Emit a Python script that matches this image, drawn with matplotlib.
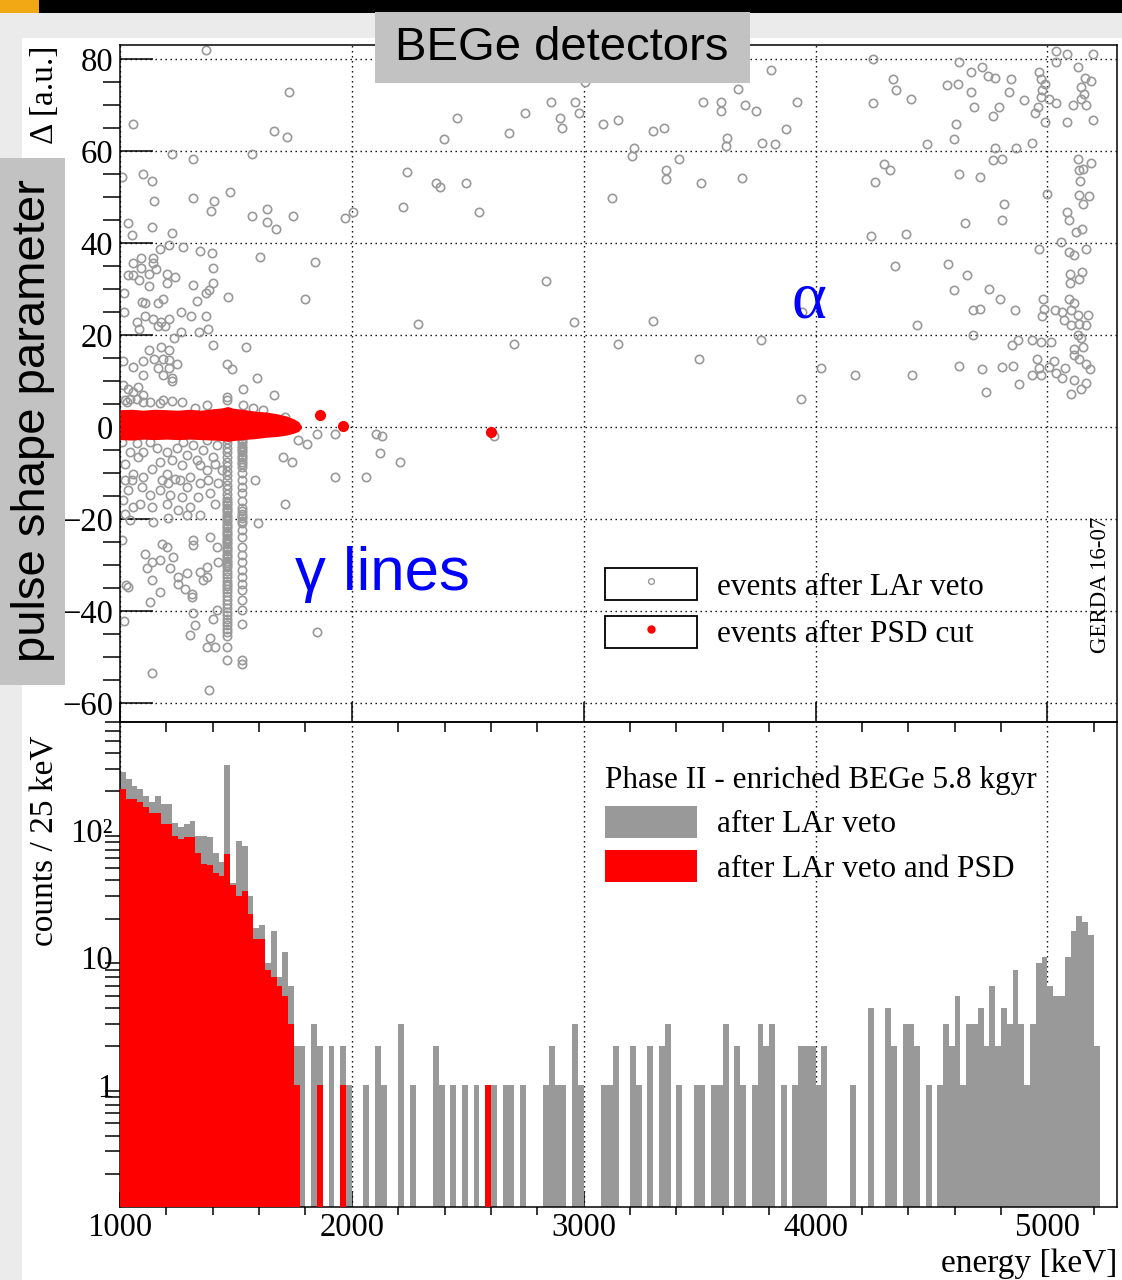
import numpy as np
import matplotlib
matplotlib.use("Agg")
import matplotlib.pyplot as plt
from matplotlib.patches import Rectangle, Patch
from matplotlib.lines import Line2D
from matplotlib.legend_handler import HandlerTuple
from matplotlib.ticker import MultipleLocator, LogLocator, NullFormatter

plt.rcParams['font.family'] = ['Liberation Serif', 'DejaVu Serif']
plt.rcParams['axes.linewidth'] = 1.1

GRAY = '#999999'
RED = '#ff0000'
BLUE = '#0000ff'

# ---- energy spectrum, counts / 25 keV, 1000 - 5300 keV -----------------
E_MIN, E_MAX, BIN_W = 1000, 5300, 25
cnt_lar = [
    284, 248, 222, 209, 183, 164, 183, 160, 160, 114,
    106, 111, 118, 90, 90, 87, 66, 56, 324, 38,
    82, 74, 30, 17, 18, 9, 16, 7, 11, 6,
    2, 2, 0, 3, 2, 0, 2, 0, 2, 1,
    0, 0, 1, 0, 2, 1, 0, 0, 3, 0,
    1, 0, 0, 0, 2, 1, 0, 1, 0, 1,
    0, 1, 0, 1, 1, 0, 1, 1, 0, 1,
    0, 0, 0, 1, 2, 1, 1, 0, 3, 1,
    0, 0, 0, 1, 1, 2, 0, 0, 2, 1,
    0, 2, 0, 2, 3, 0, 1, 0, 0, 1,
    1, 0, 1, 1, 3, 0, 2, 1, 0, 1,
    3, 2, 3, 0, 1, 0, 1, 2, 2, 2,
    1, 2, 0, 0, 0, 0, 1, 0, 0, 4,
    0, 0, 4, 2, 0, 3, 3, 2, 0, 1,
    0, 1, 3, 2, 5, 1, 3, 3, 4, 2,
    6, 2, 4, 3, 8, 3, 1, 3, 9, 10,
    6, 5, 5, 10, 16, 21, 19, 15, 2, 0,
    0, 0,
]
# after PSD: the continuum below 1775 keV plus three single events
cnt_psd_low = [
    209, 173, 173, 165, 150, 135, 135, 111, 111, 90,
    84, 87, 87, 66, 54, 53, 46, 43, 64, 37,
    30, 33, 22, 14, 14, 8, 7, 6, 5, 3,
    1,
]
psd_single_bins = [34, 38, 63]

# ---- pulse shape parameter vs energy -------------------------------------
# events after LAr veto (open circles)
lar_e = [
    # below 2 MeV, above the band
    1371, 1728, 1057, 1664, 1721, 1226, 1315, 1569, 1098, 1010,
    1138, 1145, 1315, 1404, 1394, 1474, 1033, 1052, 1138, 1226,
    1569, 1632, 1632, 1672, 1744, 1211, 1172, 1273, 1345, 1395,
    1602, 1842, 1057, 1091, 1144, 1144, 1091, 1036, 1055, 1124,
    1155, 1204, 1237, 1204, 1402, 1402, 1313, 1083, 1126, 1385,
    1371, 1467, 1799, 1019, 1093, 1109, 1162, 1187, 1330, 1019,
    1072, 1108, 1141, 1177, 1213, 1263, 1306, 1371, 1083, 1162,
    1194, 1263, 1234, 1339, 1378, 1402, 1543, 1126, 1177, 1213,
    1148, 1187, 1213, 1098, 1014, 1244, 1165, 1213, 1057, 1463,
    1481, 1101, 1187, 1226, 1226, 1592, 1529, 1664, 1463, 1463,
    1014, 1036, 1057, 1079, 1043, 1072, 1101, 1022, 1129, 1187,
    1226, 1266, 1374, 1532,
    1029, 1101, 1172, 1323, 1575, 1618, 1711, 1769, 1805, 1848, 1927,
    # below 2 MeV, under the band
    1043, 1079, 1022, 1057, 1050, 1101, 1137, 1172, 1201, 1244,
    1287, 1331, 1359, 1402, 1417, 1374, 1302, 1259, 1208, 1172,
    1129, 1086, 1036, 1014, 1137, 1201, 1251, 1302, 1338, 1388,
    1424, 1438, 1345, 1287, 1208, 1144, 1043, 1007, 1108, 1137,
    1180, 1201, 1230, 1316, 1316, 1388, 1417, 1424, 1374, 1345,
    1287, 1251, 1216, 1172, 1115, 1137, 1172, 1036, 1129, 1251,
    1280, 1309, 1309, 1359, 1374, 1417, 1402, 1388, 1410, 1302,
    1323, 1374, 1137, 1057, 1596, 1582, 1711, 1704, 1740, 1927,
    2063, 2121, 2207, 1848,
    1007, 1072, 1129, 1273, 1316, 1374, 1101, 1158, 1223, 1266,
    1345, 1410, 1201, 1237, 1180, 1287, 1345, 1381, 1093, 1216,
    1266, 1410, 1022, 1022, 1384, 1017, 1026, 1315,
    # 2 - 3.2 MeV
    2860, 2964, 2748, 2452, 2899, 2978, 2908, 2678, 2398, 3083,
    3148, 3004, 2238, 2365, 2379, 2493, 2222, 2550, 3123, 1970,
    2003, 2837, 2287, 2957, 2701, 3148, 2102, 2128, 2612, 3218,
    3210,
    # 3.2 - 4.6 MeV
    3809, 4247, 3665, 3514, 3593, 3593, 3697, 3744, 3921, 3299,
    3346, 3874, 3618, 3612, 3770, 3827, 3411, 3356, 3356, 3506,
    3682, 4336, 4345, 4247, 4412, 4566, 4479, 4295, 4319, 4256,
    4240, 4391, 4342, 4570, 3299, 3763, 3498, 4023, 4168, 4415,
    3937, 4438, 3943,
    # alpha region above 4.6 MeV
    5037, 5084, 5195, 5037, 4620, 4671, 4716, 4742, 4775, 4843,
    4613, 4671, 4836, 4900, 4685, 4790, 4764, 4606, 4599, 4965,
    4972, 4991, 4977, 4972, 5005, 4958, 4948, 4991, 5037, 5109,
    5084, 5195, 5130, 5163, 5188, 5145, 5159, 5145, 5166, 4934,
    4865, 4775, 4764, 4803, 4620, 4709, 4814, 4804, 4646, 4997,
    5130, 5188, 5138, 5155, 5140, 5138, 5181, 5152, 5083, 5094,
    5123, 5149, 5058, 4965, 5094, 5116, 5166, 4653, 4599, 4750,
    4797, 4678, 4711, 4862, 4979, 4984, 4977, 5099, 5149, 5099,
    5135, 5034, 5063, 5073, 5094, 5116, 5102, 5130, 5173, 5102,
    5138, 5166, 4678, 4846, 4872, 4934, 4972, 5015, 5130, 5145,
    5116, 5116, 5138, 5152, 5166, 4620, 4718, 4804, 4853, 4955,
    4965, 5030, 5077, 5008, 4934, 4972, 5037, 5063, 5184, 4876,
    4735, 5116, 5102, 5145, 5166,
]
lar_d = [
    82.0, 72.8, 65.9, 64.3, 63.1, 59.5, 58.3, 59.5, 55.1, 54.3,
    53.6, 49.1, 49.9, 49.1, 47.1, 51.1, 44.3, 41.8, 43.5, 42.2,
    45.9, 47.5, 44.6, 43.0, 45.9, 39.7, 38.7, 39.1, 38.3, 37.8,
    37.0, 35.9, 35.6, 36.7, 36.7, 35.6, 34.6, 33.0, 33.0, 33.3,
    34.3, 33.4, 32.7, 31.4, 34.6, 31.4, 31.0, 32.0, 30.7, 29.9,
    29.1, 28.2, 27.8, 29.1, 27.2, 27.1, 27.1, 27.8, 27.4, 25.0,
    22.8, 24.2, 23.6, 22.8, 23.5, 25.1, 24.2, 24.2, 21.4, 22.0,
    22.0, 20.7, 19.4, 20.6, 21.4, 17.8, 17.4, 16.7, 17.4, 16.7,
    14.9, 14.9, 14.6, 14.3, 14.3, 13.8, 12.9, 12.9, 13.1, 13.8,
    12.6, 11.3, 11.3, 10.6, 10.0, 10.6, 8.2, 7.0, 6.6, 5.9,
    9.1, 8.4, 7.7, 8.8, 6.2, 6.2, 7.0, 5.9, 5.5, 5.9,
    5.7, 5.5, 4.9, 4.8,
    5.5, 5.5, 5.2, 4.1, 4.1, 3.7, 2.2, -2.8, -3.6, -1.4, -1.4,
    -5.4, -6.4, -7.9, -10.1, -11.5, -10.8, -9.0, -7.5, -5.4, -4.6,
    -6.1, -7.2, -5.0, -6.4, -3.9, -9.3, -10.8, -11.5, -12.2, -13.7,
    -14.8, -16.6, -13.7, -15.9, -17.3, -16.6, -18.0, -17.3, -15.1, -14.4,
    -12.2, -9.3, -19.1, -19.1, -19.8, -20.6, -20.2, -24.6, -27.5, -29.3,
    -25.3, -26.0, -28.2, -24.6, -25.6, -23.8, -26.0, -29.3, -30.4, -31.4,
    -31.8, -32.5, -30.7, -28.9, -30.7, -33.3, -35.8, -34.7, -38.0, -34.0,
    -35.1, -36.2, -36.9, -33.3, -32.5, -39.8, -41.6, -45.9, -47.7, -45.2,
    -43.0, -47.7, -53.5, -17.3, -20.9, -11.5, -16.6, -6.4, -7.5, -10.8,
    -10.8, -5.6, -7.5, -44.5,
    -3.2, -3.5, -3.2, -3.2, -3.9, -2.8, -5.4, -4.6, -7.2, -8.3,
    -8.3, -7.9, -10.1, -11.2, -11.5, -13.0, -12.2, -11.5, -13.0, -14.8,
    -15.1, -16.6, -11.5, -18.8, -57.2, -42.2, -34.3, -40.4,
    70.7, 70.7, 68.3, 67.2, 67.2, 68.3, 65.1, 63.9, 62.7, 65.9,
    66.7, 75.0, 55.5, 53.1, 52.2, 53.1, 47.8, 46.7, 49.8, 45.5,
    46.7, 31.8, 22.5, 22.9, 18.1, 18.1, -1.5, -1.9, -1.9, 60.8,
    59.0,
    77.6, 80.0, 73.6, 70.7, 70.7, 68.8, 70.0, 68.8, 70.7, 64.3,
    65.1, 64.8, 62.8, 61.2, 61.9, 61.5, 58.3, 55.9, 53.9, 53.1,
    54.2, 75.6, 73.3, 70.4, 71.4, 74.3, 61.5, 57.3, 55.9, 53.4,
    41.5, 41.9, 35.1, 35.4, 23.0, 18.9, 14.9, 12.9, 11.3, 11.3,
    6.1, 22.2, 25.1,
    81.9, 81.2, 81.2, 79.4, 79.4, 77.2, 78.3, 76.4, 76.0, 75.6,
    74.7, 72.9, 72.9, 71.2, 69.6, 69.6, 67.6, 65.9, 62.7, 77.2,
    75.8, 74.7, 73.3, 71.8, 71.4, 69.6, 68.3, 66.4, 70.4, 70.0,
    66.4, 66.7, 78.3, 76.0, 75.3, 74.0, 72.5, 71.4, 70.0, 61.9,
    60.8, 60.8, 58.0, 58.4, 55.1, 54.3, 48.6, 45.1, 44.3, 50.8,
    58.4, 57.5, 55.9, 56.2, 53.5, 50.4, 50.3, 48.6, 46.8, 45.0,
    42.4, 43.2, 40.3, 38.7, 38.0, 37.4, 38.8, 33.0, 29.8, 30.1,
    27.8, 25.4, 25.8, 25.4, 27.8, 25.8, 24.2, 33.4, 33.8, 31.4,
    32.3, 25.4, 25.0, 23.3, 27.8, 26.9, 25.4, 24.3, 24.3, 22.2,
    22.5, 22.2, 20.0, 17.8, 18.9, 18.9, 18.5, 18.5, 20.0, 19.3,
    17.1, 15.6, 14.9, 17.5, 13.8, 13.3, 12.6, 13.0, 13.3, 14.8,
    12.9, 14.3, 12.9, 13.1, 11.3, 11.3, 11.7, 10.6, 12.6, 9.3,
    7.7, 10.2, 7.3, 8.4, 9.7,
]
# multi-site events of the 40K (1461 keV) and 42K (1525 keV) lines
k40_e = 1463
k40_d = [-1.5, -2.5, -3.5, -4.5, -5.5, -6.5, -7.5, -8.5, -9.5, -10.5,
         -11.5, -12.5, -13.5, -14.5, -15.5, -16.0, -16.5, -17.0, -17.5, -18.0,
         -18.5, -19.0, -19.5, -20.0, -20.5, -21.0, -21.5, -22.0, -22.5, -23.0,
         -23.5, -24.0, -24.5, -25.0, -25.5, -26.0, -26.5, -27.0, -27.5, -28.0,
         -28.5, -29.0, -29.5, -30.0, -30.5, -31.3, -32.0, -32.5, -33.4, -34.0,
         -34.5, -35.2, -35.8, -36.8, -37.6, -38.5, -39.4, -40.1, -40.8, -41.6,
         -42.3, -43.0, -43.8, -44.5, -45.5, -47.8, -50.7]
k42_e = 1527
k42_d = [-2.0, -2.5, -3.0, -3.5, -4.0, -4.5, -5.0, -5.5, -6.0, -6.5,
         -7.0, -7.5, -8.0, -8.6, -10.0, -11.5, -13.0, -14.4, -16.0, -17.5,
         -18.3, -18.8, -19.3, -19.8, -20.4, -20.9, -22.4, -23.8, -26.0, -27.8,
         -29.3, -31.1, -32.5, -34.0, -35.4, -37.6, -39.8, -42.7, -50.7, -51.4]

# events after PSD cut: dense band of single-site events + three outliers
band_e = [1000, 1050, 1100, 1150, 1200, 1250, 1300, 1350, 1400, 1440,
          1465, 1490, 1530, 1580, 1630, 1680, 1720, 1750, 1770, 1782]
band_hi = [3.8, 3.9, 3.7, 3.9, 3.8, 3.7, 3.9, 3.7, 4.0, 4.2,
           4.5, 4.1, 3.9, 3.5, 3.3, 2.9, 2.4, 1.8, 1.2, 0.3]
band_lo = [-2.7, -2.8, -2.6, -2.7, -2.6, -2.7, -2.6, -2.7, -2.8, -2.9,
           -3.1, -2.9, -2.7, -2.5, -2.2, -2.0, -1.7, -1.3, -0.9, -0.2]
psd_e = [1862, 1960, 2598]
psd_d = [2.7, 0.2, -1.0]

# ---------------------------------------------------------------------------
W, H = 1122, 1280
fig = plt.figure(figsize=(W / 100, H / 100), dpi=100)
fig.patch.set_facecolor('#ebebeb')
# white canvas, dark top strip with orange corner (behind the axes)
fig.patches.append(Rectangle((22 / W, 0), 1, 1 - 38 / H, transform=fig.transFigure,
                             facecolor='white', edgecolor='none', zorder=-2))
fig.patches.append(Rectangle((0, 1 - 12.5 / H), 1, 12.5 / H, transform=fig.transFigure,
                             facecolor='black', edgecolor='none', zorder=-2))
fig.patches.append(Rectangle((0, 1 - 12.5 / H), 39 / W, 12.5 / H, transform=fig.transFigure,
                             facecolor='#f2a815', edgecolor='none', zorder=-1))

left, width = 120 / W, 997 / W
ax1 = fig.add_axes([left, 1 - 722 / H, width, 677 / H])
ax2 = fig.add_axes([left, 1 - 1207 / H, width, 485 / H])
for ax in (ax1, ax2):
    ax.set_facecolor('none')

dots = (0, (1, 2.6))
tick_kw = dict(direction='in', top=False, right=False, width=1.1, labelsize=23.5)
circ = dict(ls='none', marker='o', mfc='none', mec=GRAY, ms=6.0, mew=1.2, zorder=2)

# ---- upper panel ----
ax1.plot(lar_e, lar_d, **circ)
ax1.plot([k40_e] * len(k40_d), k40_d, **circ)
ax1.plot([k42_e] * len(k42_d), k42_d, **circ)
ax1.fill_between(band_e, band_lo, band_hi, color=RED, lw=0, zorder=3)
ax1.plot(psd_e, psd_d, ls='none', marker='o', color=RED, ms=7, zorder=3)

ax1.set_xlim(E_MIN, E_MAX)
ax1.set_ylim(-64.1, 83.1)
ax1.xaxis.set_major_locator(MultipleLocator(1000))
ax1.xaxis.set_minor_locator(MultipleLocator(200))
ax1.yaxis.set_major_locator(MultipleLocator(20))
ax1.yaxis.set_minor_locator(MultipleLocator(5))
ax1.tick_params(**tick_kw)
ax1.tick_params(axis='x', which='major', length=14.5, labelbottom=False)
ax1.tick_params(axis='x', which='minor', length=7.2, width=1.1)
ax1.tick_params(axis='y', which='major', length=23.8, pad=5)
ax1.tick_params(axis='y', which='minor', length=12.2, width=1.1)
ax1.set_axisbelow(True)
ax1.grid(True, which='major', color='black', ls=dots, lw=1.0)
ax1.set_ylabel('Δ [a.u.]', fontsize=24, loc='top')
ax1.yaxis.set_label_coords(-0.060, 1.0)

box_kw = dict(facecolor='white', edgecolor='black', linewidth=1.3)
h_lar = (Rectangle((0, 0), 1, 1, **box_kw),
         Line2D([], [], ls='none', marker='o', mfc='none', mec=GRAY, ms=4.2, mew=1.0))
h_psd = (Rectangle((0, 0), 1, 1, **box_kw),
         Line2D([], [], ls='none', marker='o', color=RED, ms=5))
ax1.legend([h_lar, h_psd], ['events after LAr veto', 'events after PSD cut'],
           handler_map={tuple: HandlerTuple(ndivide=1, pad=0)},
           loc='upper left', bbox_to_anchor=(0.4865, 0.2275), frameon=False,
           fontsize=22.5, handlelength=2.94, handleheight=1.2, handletextpad=0.64,
           labelspacing=0.45, borderpad=0, borderaxespad=0)

ax1.text(0.1755, 0.195, 'γ lines', transform=ax1.transAxes, color=BLUE,
         fontsize=44.5, family=['Liberation Sans', 'DejaVu Sans'], ha='left', va='baseline')
ax1.text(0.691, 0.597, 'α', transform=ax1.transAxes, color=BLUE,
         fontsize=48, ha='center', va='baseline')
ax1.text(0.983, 0.2024, 'GERDA 16-07', transform=ax1.transAxes, rotation=90,
         fontsize=16.5, ha='center', va='center')

# ---- lower panel ----
edges = np.arange(E_MIN, E_MAX + BIN_W, BIN_W)
lar = np.array(cnt_lar, dtype=float)
psd = np.zeros(len(lar))
psd[:len(cnt_psd_low)] = cnt_psd_low
psd[psd_single_bins] = 1
base = 1e-3
ax2.stairs(np.where(lar > 0, lar, base), edges, baseline=base, fill=True,
           color=GRAY, lw=0, zorder=2)
ax2.stairs(np.where(psd > 0, psd, base), edges, baseline=base, fill=True,
           color=RED, lw=0, zorder=3)

ax2.set_yscale('log')
ax2.set_xlim(E_MIN, E_MAX)
ax2.set_ylim(0.11, 700)
ax2.xaxis.set_major_locator(MultipleLocator(1000))
ax2.xaxis.set_minor_locator(MultipleLocator(200))
ax2.set_yticks([1, 10, 100])
ax2.set_yticklabels(['1', '10', '10²'])
ax2.yaxis.set_minor_locator(LogLocator(base=10, subs=np.arange(2, 10)))
ax2.yaxis.set_minor_formatter(NullFormatter())
ax2.tick_params(**tick_kw)
ax2.tick_params(axis='x', which='major', length=10.8, pad=4)
ax2.tick_params(axis='x', which='minor', length=5.8, width=1.1)
ax2.tick_params(axis='y', which='major', length=21.6, pad=5)
ax2.tick_params(axis='y', which='minor', length=10.8, width=1.1)
ax2.set_axisbelow(True)
ax2.grid(True, axis='x', which='major', color='black', ls=dots, lw=1.0)
ax2.set_ylabel('counts / 25 keV', fontsize=24, loc='top')
ax2.yaxis.set_label_coords(-0.060, 0.973)
ax2.set_xlabel('energy [keV]', fontsize=24, loc='right')
ax2.xaxis.set_label_coords(1.0, -0.085)

ax2.legend([Patch(facecolor=GRAY, lw=0), Patch(facecolor=RED, lw=0)],
           ['after LAr veto', 'after LAr veto and PSD'],
           title='Phase II - enriched BEGe 5.8 kgyr', title_fontsize=22.5,
           alignment='left', loc='upper left', bbox_to_anchor=(0.4865, 0.911),
           frameon=False, fontsize=22.5, handlelength=2.94, handleheight=1.2,
           handletextpad=0.64, labelspacing=0.35, borderpad=0, borderaxespad=0)

# ---- slide overlays ----
fig.patches.append(Rectangle((375 / W, 1 - 83 / H), 375 / W, 71 / H, transform=fig.transFigure,
                             facecolor='#c2c2c2', edgecolor='none', zorder=5))
fig.text(562 / W, 1 - 47.5 / H, 'BEGe detectors', ha='center', va='center', fontsize=34,
         family=['Liberation Sans', 'DejaVu Sans'], zorder=6)
fig.patches.append(Rectangle((0, 1 - 685 / H), 65 / W, 527 / H, transform=fig.transFigure,
                             facecolor='#c2c2c2', edgecolor='none', zorder=5))
fig.text(33 / W, 1 - 421 / H, 'pulse shape parameter', ha='center', va='center', rotation=90,
         fontsize=34, family=['Liberation Sans', 'DejaVu Sans'], zorder=6)

fig.savefig('out.png', dpi=100, facecolor=fig.get_facecolor())
